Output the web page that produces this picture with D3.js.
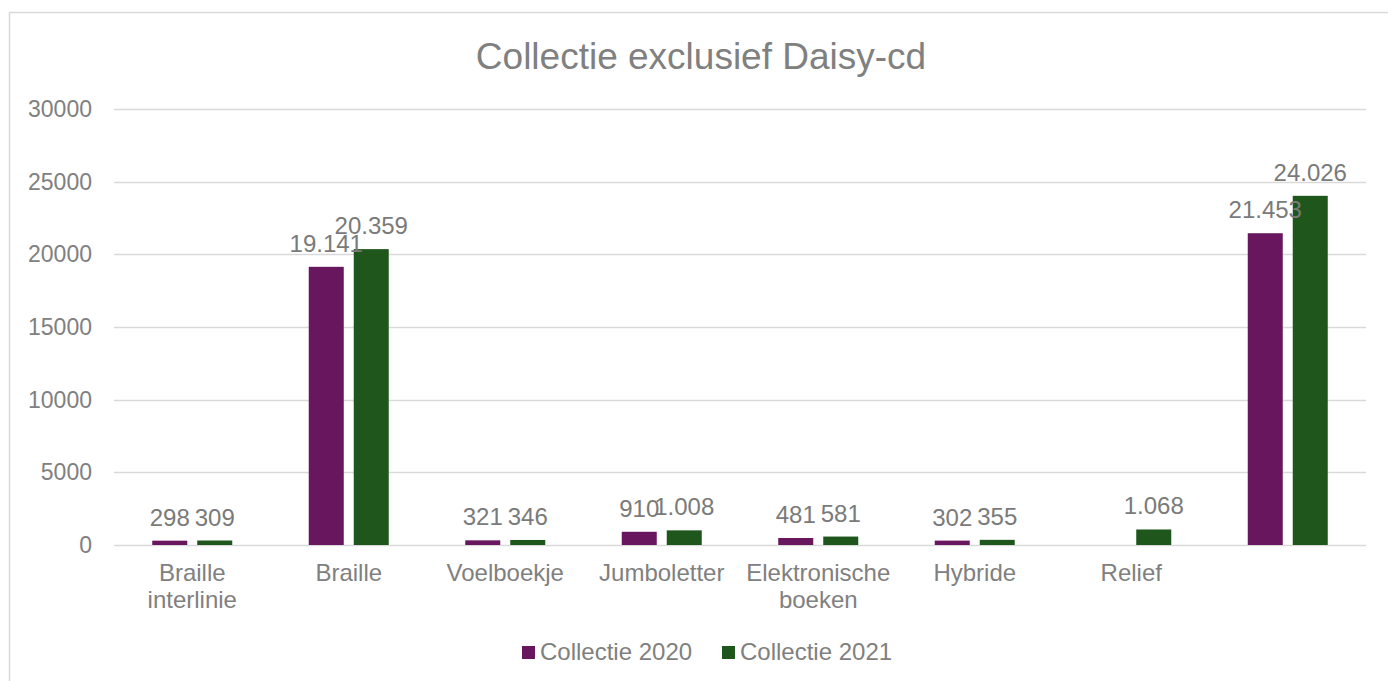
<!DOCTYPE html>
<html>
<head>
<meta charset="utf-8">
<script src="https://cdn.jsdelivr.net/npm/d3@7"></script>
<style>
  html, body { margin: 0; padding: 0; background: #fff; }
  svg { display: block; font-family: "Liberation Sans", Arial, sans-serif; }
</style>
</head>
<body>
<svg id="chart" width="1388" height="681"></svg>
<script>
// Collection sizes per format, 2020 vs 2021 (null = no value)
const categories = ["Braille\ninterlinie", "Braille", "Voelboekje", "Jumboletter", "Elektronische\nboeken", "Hybride", "Relief", ""];
const series = ["Collectie 2020", "Collectie 2021"];
const values2020 = [298, 19141, 321, 910, 481, 302, null, 21453];
const values2021 = [309, 20359, 346, 1008, 581, 355, 1068, 24026];
const yTicks = [0, 5000, 10000, 15000, 20000, 25000, 30000];
const colors = ["#68175f", "#1f561c"];
const title = "Collectie exclusief Daisy-cd";

const svg = d3.select("#chart");
const W = 1388, H = 681;
const plot = { left: 114, right: 1366, top: 109, bottom: 545 };
const textGray = "#808080";
const gridGray = "#d9d9d9";

// Chart frame (runs past the right and bottom edges)
svg.append("rect")
  .attr("x", 9.5).attr("y", 12.5)
  .attr("width", W + 20).attr("height", H + 20)
  .attr("fill", "#fff").attr("stroke", gridGray).attr("stroke-width", 1.5);

// Title
svg.append("text")
  .attr("x", 701).attr("y", 69)
  .attr("text-anchor", "middle")
  .attr("font-size", 37)
  .attr("fill", textGray)
  .text(title);

const idx = d3.range(categories.length);
const x0 = d3.scaleBand().domain(idx).range([plot.left, plot.right]).padding(0);
const groupW = 80;
const x1 = d3.scaleBand().domain(series)
  .range([(x0.bandwidth() - groupW) / 2, (x0.bandwidth() + groupW) / 2])
  .paddingInner(10 / 45).paddingOuter(0);
const y = d3.scaleLinear().domain([0, 30000]).range([plot.bottom, plot.top]);

// Horizontal gridlines and value axis labels
const yAxis = d3.axisLeft(y).tickValues(yTicks).tickSize(0).tickPadding(22).tickFormat(d3.format("d"));
const gy = svg.append("g").attr("transform", `translate(${plot.left},0)`).call(yAxis);
gy.select(".domain").remove();
gy.selectAll("text").attr("font-size", 23).attr("fill", textGray)
  .attr("font-family", "'Liberation Sans', Arial, sans-serif");
svg.append("g").selectAll("line").data(yTicks).join("line")
  .attr("x1", plot.left).attr("x2", plot.right)
  .attr("y1", d => Math.round(y(d)) + 0.5).attr("y2", d => Math.round(y(d)) + 0.5)
  .attr("stroke", gridGray).attr("stroke-width", 1.5);

// Category labels (multi-line)
const xAxis = d3.axisBottom(x0).tickSize(0).tickFormat(() => "");
const gx = svg.append("g").attr("transform", `translate(0,${plot.bottom})`).call(xAxis);
gx.select(".domain").remove();
gx.selectAll(".tick").each(function (d) {
  const lines = categories[d].split("\n");
  const t = d3.select(this).append("text")
    .attr("text-anchor", "middle")
    .attr("font-size", 24)
    .attr("fill", textGray);
  lines.forEach((ln, i) => {
    t.append("tspan").attr("x", 0).attr("y", 36 + i * 27).text(ln);
  });
});

// Flatten to one record per drawn bar
const cells = [];
idx.forEach(i => {
  [values2020[i], values2021[i]].forEach((v, s) => {
    if (v != null) cells.push({ i, s, v });
  });
});
const barX = c => x0(c.i) + x1(series[c.s]);
const nf = d3.formatLocale({ decimal: ",", thousands: ".", grouping: [3], currency: ["€", ""] }).format(",d");

// Bars
svg.append("g").selectAll("rect").data(cells).join("rect")
  .attr("x", barX)
  .attr("width", x1.bandwidth())
  .attr("y", c => y(c.v))
  .attr("height", c => y(0) - y(c.v))
  .attr("fill", c => colors[c.s]);

// Value labels, drawn above all bars
svg.append("g").selectAll("text").data(cells).join("text")
  .attr("x", c => barX(c) + x1.bandwidth() / 2)
  .attr("y", c => y(c.v) - 15)
  .attr("text-anchor", "middle")
  .attr("font-size", 24)
  .attr("fill", "#7a7a7a")
  .text(c => nf(c.v));

// Legend
const legendX = [522, 722];
const lg = svg.append("g").selectAll("g").data(series).join("g")
  .attr("transform", (d, i) => `translate(${legendX[i]},646)`);
lg.append("rect").attr("width", 13).attr("height", 13).attr("fill", (d, i) => colors[i]);
lg.append("text").attr("x", 18).attr("y", 14)
  .attr("font-size", 24).attr("fill", textGray).text(d => d);
</script>
</body>
</html>
